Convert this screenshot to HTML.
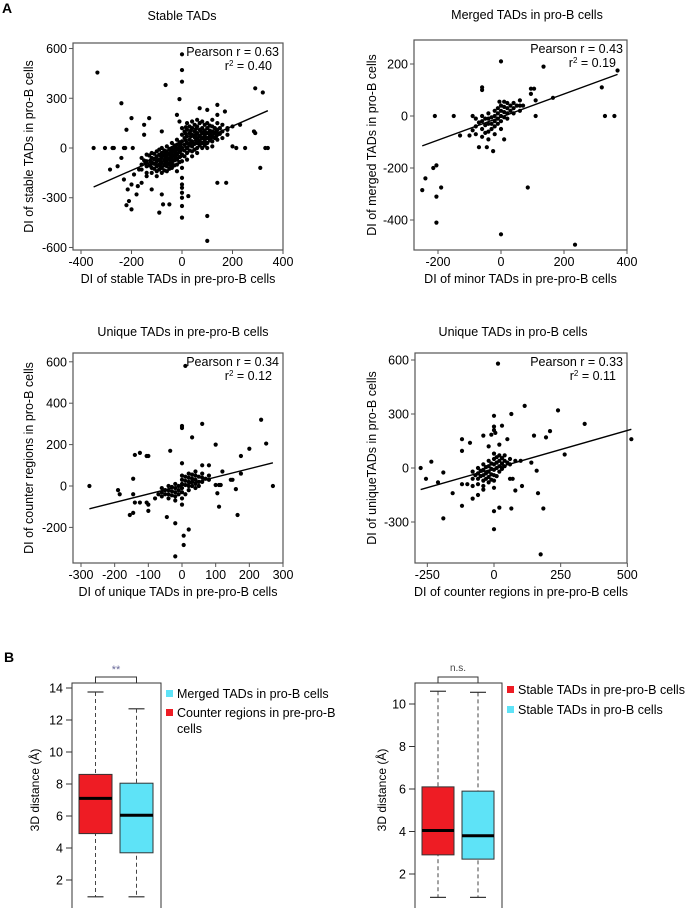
<!DOCTYPE html>
<html><head><meta charset="utf-8"><style>
body{margin:0;background:#fff;}
svg{display:block;font-family:"Liberation Sans",sans-serif;}
</style></head><body>
<svg id="fig" width="687" height="908" viewBox="0 0 687 908" xmlns="http://www.w3.org/2000/svg">
<text x="2" y="13" font-size="14" font-weight="bold">A</text>
<text x="4" y="662" font-size="14" font-weight="bold">B</text>
</svg>
<script>
// ---------- scatter data ----------
const p1Points = [[-335,455],[-65,380],[0,565],[0,470],[0,400],[-240,270],[-10,295],[-200,180],[-220,110],[-150,140],[-150,80],[-80,100],[290,360],[320,335],[-350,0],[-305,0],[-275,0],[-270,0],[-230,0],[-225,0],[-195,0],[-285,-130],[-255,-110],[-240,-60],[-230,-190],[-215,-250],[-200,-220],[-175,-230],[-160,-210],[-200,-370],[-220,-345],[-210,-320],[-180,-280],[-120,-250],[-90,-390],[-80,-280],[-75,-340],[-50,-340],[0,-350],[0,-420],[0,-300],[0,-270],[0,-240],[25,-290],[100,-410],[100,-560],[140,-210],[175,-210],[310,-120],[340,0],[330,0],[250,0],[215,0],[200,10],[285,100],[290,90],[230,140],[200,130],[180,110],[140,260],[100,230],[170,220],[70,240],[-130,180],[-170,-130],[-190,-160],[-140,-170],[-20,200],[-10,160],
[-160,-60],[-160,-100],[-160,-130],[-140,-40],[-140,-80],[-140,-110],[-140,-150],[-120,-30],[-120,-60],[-120,-90],[-120,-120],[-120,-150],[-100,-20],[-100,-50],[-100,-80],[-100,-110],[-100,-140],[-100,-170],[-80,0],[-80,-30],[-80,-60],[-80,-90],[-80,-120],[-80,-150],[-60,10],[-60,-20],[-60,-50],[-60,-80],[-60,-110],[-60,-140],[-40,30],[-40,0],[-40,-30],[-40,-60],[-40,-90],[-40,-120],[-20,50],[-20,20],[-20,-10],[-20,-40],[-20,-70],[-20,-100],[-20,-140],[0,120],[0,80],[0,40],[0,0],[0,-40],[0,-80],[0,-120],[0,-180],[0,-220],[20,150],[20,110],[20,70],[20,30],[20,0],[20,-30],[20,-70],[40,160],[40,120],[40,80],[40,40],[40,10],[40,-20],[40,-50],[60,170],[60,130],[60,90],[60,60],[60,30],[60,0],[60,-30],[80,160],[80,120],[80,90],[80,60],[80,30],[80,0],[100,150],[100,120],[100,90],[100,60],[100,30],[100,0],[120,170],[120,130],[120,100],[120,70],[120,40],[120,10],[140,200],[140,150],[140,110],[140,80],[140,50],[160,140],[160,100],[160,60],[180,120],[180,80],
[-150,-75],[-130,-45],[-130,-105],[-110,-35],[-110,-65],[-110,-95],[-110,-125],[-90,-10],[-90,-40],[-90,-70],[-90,-100],[-90,-130],[-70,-15],[-70,-45],[-70,-75],[-70,-105],[-70,-135],[-50,-5],[-50,-35],[-50,-65],[-50,-95],[-50,-125],[-30,15],[-30,-15],[-30,-45],[-30,-75],[-30,-105],[-10,35],[-10,5],[-10,-25],[-10,-55],[-10,-85],[10,100],[10,60],[10,20],[10,-15],[10,-50],[30,130],[30,90],[30,50],[30,15],[30,-15],[50,140],[50,100],[50,65],[50,25],[50,-10],[70,150],[70,110],[70,75],[70,45],[70,15],[90,140],[90,105],[90,75],[90,45],[90,15],[110,135],[110,105],[110,75],[110,45],[130,120],[130,90],[130,60],[150,120],[150,85],
[-145,-90],[-125,-75],[-125,-105],[-105,-65],[-105,-95],[-85,-45],[-85,-80],[-85,-110],[-65,-30],[-65,-65],[-65,-95],[-45,-15],[-45,-45],[-45,-75],[-45,-105],[-25,0],[-25,-30],[-25,-60],[-5,20],[-5,-15],[-5,-50],[15,45],[15,85],[15,125],[35,30],[35,70],[35,105],[55,45],[55,80],[55,115],[75,30],[75,65],[75,100],[95,30],[95,60],[95,90],[115,60],[115,90],[135,70],[135,100]];
const p2Points = [[0,210],[135,190],[370,175],[320,110],[330,0],[360,0],[-60,110],[-60,100],[95,105],[105,105],[95,85],[165,70],[-210,0],[-150,0],[-130,-75],[-250,-285],[-240,-240],[-215,-200],[-205,-190],[-205,-310],[-190,-275],[-205,-410],[0,-455],[85,-275],[235,-495],[-70,-120],[-45,-120],[-25,-135],[10,-90],[110,0],[60,60],[110,60],[-100,-75],[-90,-55],[-90,0],[-5,55],[10,55],[70,40],
[-80,-10],[-80,-40],[-80,-70],[-60,0],[-60,-20],[-60,-50],[-60,-80],[-40,10],[-40,-10],[-40,-30],[-40,-60],[-40,-90],[-20,20],[-20,0],[-20,-20],[-20,-40],[-20,-70],[0,40],[0,20],[0,0],[0,-20],[0,-50],[20,50],[20,30],[20,10],[20,-10],[40,50],[40,30],[40,10],[60,40],[60,20],[-50,-35],[-30,-50],[-10,10],[10,35],[30,20],[-10,-30],[10,-5],
[-70,-25],[-50,-10],[-30,-5],[-30,-30],[-10,-10],[10,15],[30,40],[-50,-65],[-10,30],[50,40]];
const p3Points = [[10,580],[235,320],[60,300],[0,290],[0,280],[30,235],[-35,170],[100,200],[200,180],[250,205],[175,145],[-140,150],[-125,160],[-105,145],[-100,145],[-145,35],[-275,0],[270,0],[-190,-20],[-185,-40],[-145,-40],[-140,-80],[-125,-80],[-105,-80],[-100,-90],[-100,-120],[-155,-140],[-145,-130],[-45,-150],[-20,-180],[20,-210],[5,-240],[5,-285],[-20,-340],[110,-100],[165,-140],[160,-15],[105,-35],[110,5],[145,30],[175,60],[120,70],[60,100],[0,110],[80,100],[-80,-60],[-70,-40],[100,5],[115,5],[150,30],
[-60,-10],[-60,-30],[-60,-50],[-40,0],[-40,-20],[-40,-40],[-40,-60],[-20,10],[-20,-10],[-20,-30],[-20,-50],[-20,-70],[0,50],[0,30],[0,10],[0,-10],[0,-30],[0,-60],[0,-90],[20,60],[20,40],[20,20],[20,0],[20,-20],[40,70],[40,50],[40,30],[40,10],[40,-10],[60,60],[60,40],[60,20],[80,50],[80,30],[-30,-25],[-10,-20],[10,25],[30,35],[50,20],[-50,-20],[10,-40],[30,0],
[-50,-40],[-30,-45],[-10,-40],[-10,0],[10,5],[10,45],[30,20],[30,55],[50,45],[50,0],[70,35],[-30,-5]];
const p4Points = [[15,580],[115,345],[240,320],[65,300],[0,290],[340,245],[0,230],[0,210],[30,235],[5,195],[-10,185],[50,160],[-40,180],[-120,160],[-90,140],[-120,95],[150,180],[195,170],[210,205],[265,75],[515,160],[140,30],[160,-15],[-275,0],[-255,-60],[-235,35],[-190,-25],[-210,-80],[-155,-140],[-120,-210],[-190,-280],[-80,-170],[0,-240],[20,-220],[0,-340],[65,-225],[80,-125],[105,-100],[165,-140],[185,-225],[175,-480],[60,-60],[70,-60],[-100,-90],[-60,-150],[-120,-90],[-20,120],[20,130],[100,40],[-40,-120],
[-80,-20],[-80,-60],[-80,-100],[-60,0],[-60,-30],[-60,-60],[-60,-90],[-40,20],[-40,-10],[-40,-40],[-40,-70],[-40,-100],[-20,40],[-20,10],[-20,-20],[-20,-50],[-20,-80],[0,80],[0,50],[0,20],[0,-10],[0,-40],[0,-70],[0,-110],[20,70],[20,40],[20,10],[20,-20],[40,70],[40,40],[40,10],[60,50],[60,20],[80,40],[-30,-30],[-10,-5],[10,30],[30,55],[-50,-45],[10,-45],
[-50,-15],[-30,5],[-30,-60],[-10,25],[-10,-35],[-10,-65],[10,0],[10,60],[30,25],[30,-5],[50,30],[-70,-40]];
const p1Line = [[-350,-235],[340,225]];
const p2Line = [[-250,-115],[370,160]];
const p3Line = [[-275,-110],[270,112]];
const p4Line = [[-275,-120],[515,215]];
const p1XTicks = [-400,-200,0,200,400], p1YTicks = [600,300,0,-300,-600];
const p2XTicks = [-200,0,200,400], p2YTicks = [200,0,-200,-400];
const p3XTicks = [-300,-200,-100,0,100,200,300], p3YTicks = [600,400,200,0,-200];
const p4XTicks = [-250,0,250,500], p4YTicks = [600,300,0,-300];
// ---------- box data ----------
const boxCats1 = ["Counter regions in pre-pro-B cells","Merged TADs in pro-B cells"];
const boxStats1 = [[0.95,4.9,7.1,8.6,13.75],[0.95,3.7,6.05,8.05,12.7]];
const boxCats2 = ["Stable TADs in pre-pro-B cells","Stable TADs in pro-B cells"];
const boxStats2 = [[0.9,2.9,4.05,6.1,10.6],[0.9,2.7,3.8,5.9,10.55]];
const boxTicks1 = [2,4,6,8,10,12,14];
const boxTicks2 = [2,4,6,8,10];

const NS="http://www.w3.org/2000/svg";
const svg=document.getElementById('fig');
function mk(tag,attrs,parent,txt){const e=document.createElementNS(NS,tag);for(const k in attrs)e.setAttribute(k,attrs[k]);if(txt!==undefined)e.textContent=txt;(parent||svg).appendChild(e);return e;}

function scatter(cfg){
  const g=mk('g',{});
  
  
  const X=v=>cfg.x0+v*cfg.kx, Y=v=>cfg.y0-v*cfg.ky;
  const t=mk('text',{x:cfg.tx,y:cfg.ty,'font-size':12.5,'text-anchor':'middle'},g,cfg.title);
  
  
  const fr=mk('rect',{x:cfg.L,y:cfg.T,width:cfg.R-cfg.L,height:cfg.B-cfg.T,fill:'none',stroke:'#555','stroke-width':1.2},g);
  
  
  cfg.xt.forEach(v=>{
    mk('line',{x1:X(v),x2:X(v),y1:cfg.B,y2:cfg.B+4,stroke:'#555'},g);
    const l=mk('text',{x:X(v),y:cfg.B+16,'font-size':12.5,'text-anchor':'middle'},g,String(v));
    
    
  });
  cfg.yt.forEach(v=>{
    mk('line',{x1:cfg.L-4,x2:cfg.L,y1:Y(v),y2:Y(v),stroke:'#555'},g);
    const l=mk('text',{x:cfg.L-6,y:Y(v)+4.5,'font-size':12.5,'text-anchor':'end'},g,String(v));
    
    
  });
  const xl=mk('text',{x:(cfg.L+cfg.R)/2,y:cfg.B+33,'font-size':12.5,'text-anchor':'middle'},g,cfg.xlab);
  
  
  const yc=(cfg.T+cfg.B)/2;
  const yl=mk('text',{x:cfg.ylx,y:yc,'font-size':12.5,'text-anchor':'middle',transform:`rotate(-90 ${cfg.ylx} ${yc})`},g,cfg.ylab);
  
  
  cfg.pts.forEach(p=>{
    const c=mk('circle',{cx:X(p[0]),cy:Y(p[1]),r:2.1,fill:'#000'},g);
    
    
  });
  const ln=mk('line',{x1:X(cfg.line[0][0]),y1:Y(cfg.line[0][1]),x2:X(cfg.line[1][0]),y2:Y(cfg.line[1][1]),stroke:'#000','stroke-width':1.4},g);
  
  
  const s1=mk('text',{x:cfg.R-4,y:cfg.T+13,'font-size':12.5,'text-anchor':'end'},g,cfg.r);
  
  
  const s2=mk('text',{x:cfg.R-11,y:cfg.T+27,'font-size':12.5,'text-anchor':'end'},g);
  
  
  s2.innerHTML='r<tspan dy="-4" font-size="8">2</tspan><tspan dy="4"> = '+cfg.r2+'</tspan>';
}
scatter({name:'scatter-stable-tads',title:'Stable TADs',tx:182,ty:20,L:73,R:283,T:43,B:250,x0:182,kx:0.2525,y0:148,ky:0.1658,xt:p1XTicks,yt:p1YTicks,xlab:'DI of stable TADs in pre-pro-B cells',ylab:'DI of stable TADs in pro-B cells',ylx:33,pts:p1Points,line:p1Line,r:'Pearson r = 0.63',r2:'0.40'});
scatter({name:'scatter-merged-tads',title:'Merged TADs in pro-B cells',tx:527,ty:19,L:414,R:627,T:40,B:250,x0:501,kx:0.315,y0:116,ky:0.26,xt:p2XTicks,yt:p2YTicks,xlab:'DI of minor TADs in pre-pro-B cells',ylab:'DI of merged TADs in pro-B cells',ylx:376,pts:p2Points,line:p2Line,r:'Pearson r = 0.43',r2:'0.19'});
scatter({name:'scatter-unique-prepro',title:'Unique TADs in pre-pro-B cells',tx:183,ty:336,L:73,R:283,T:353,B:563,x0:182,kx:0.3367,y0:486,ky:0.207,xt:p3XTicks,yt:p3YTicks,xlab:'DI of unique TADs in pre-pro-B cells',ylab:'DI of counter regions in pro-B cells',ylx:33,pts:p3Points,line:p3Line,r:'Pearson r = 0.34',r2:'0.12'});
scatter({name:'scatter-unique-pro',title:'Unique TADs in pro-B cells',tx:513,ty:336,L:415,R:627,T:353,B:563,x0:494,kx:0.2667,y0:468,ky:0.18,xt:p4XTicks,yt:p4YTicks,xlab:'DI of counter regions in pre-pro-B cells',ylab:'DI of uniqueTADs in pro-B cells',ylx:376,pts:p4Points,line:p4Line,r:'Pearson r = 0.33',r2:'0.11'});

function boxplot(cfg){
  const g=mk('g',{});
  
  
  const Y=v=>cfg.yTop-(v-cfg.vTop)*cfg.k;
  const fr=mk('rect',{x:cfg.L,y:cfg.T,width:cfg.R-cfg.L,height:930-cfg.T,fill:'none',stroke:'#333','stroke-width':1},g);
  
  
  cfg.ticks.forEach(v=>{
    mk('line',{x1:cfg.L-6,x2:cfg.L,y1:Y(v),y2:Y(v),stroke:'#333'},g);
    const l=mk('text',{x:cfg.L-9,y:Y(v)+4.5,'font-size':12.5,'text-anchor':'end'},g,String(v));
    
    
  });
  const yc=790;
  const yl=mk('text',{x:cfg.ylx,y:yc,'font-size':12,'text-anchor':'middle',transform:`rotate(-90 ${cfg.ylx} ${yc})`},g,'3D distance (Å)');
  
  
  cfg.stats.forEach((s,i)=>{
    const x1=cfg.bx[i], x2=x1+cfg.bw, xm=x1+cfg.bw/2;
    mk('line',{x1:xm,x2:xm,y1:Y(s[4]),y2:Y(s[0]),stroke:'#444','stroke-dasharray':'4 3'},g);
    mk('line',{x1:xm-8,x2:xm+8,y1:Y(s[4]),y2:Y(s[4]),stroke:'#333','stroke-width':1.2},g);
    mk('line',{x1:xm-8,x2:xm+8,y1:Y(s[0]),y2:Y(s[0]),stroke:'#333','stroke-width':1.2},g);
    const b=mk('rect',{x:x1,y:Y(s[3]),width:cfg.bw,height:Y(s[1])-Y(s[3]),fill:cfg.colors[i],stroke:'#333','stroke-width':1},g);
    
    
    mk('line',{x1:x1,x2:x2,y1:Y(s[2]),y2:Y(s[2]),stroke:'#000','stroke-width':3},g);
  });
  const ma=cfg.bx[0]+cfg.bw/2, mb=cfg.bx[1]+cfg.bw/2;
  const br=mk('path',{d:`M${ma} ${cfg.T}V677H${mb}V${cfg.T}`,fill:'none',stroke:'#333'},g);
  
  
  const sg=mk('text',{x:(ma+mb)/2,y:cfg.sigY,'font-size':cfg.sigSize,'text-anchor':'middle',fill:cfg.sigColor},g,cfg.sig);
  
  
  cfg.legend.forEach((e,i)=>{
    const lg=mk('g',{},g);
    
    
    mk('rect',{x:cfg.lx,y:cfg.ly[i]-8,width:7,height:7,fill:e[1]},lg);
    e[0].forEach((ln,j)=>mk('text',{x:cfg.lx+11,y:cfg.ly[i]+j*16,'font-size':12.5},lg,ln));
  });
}
boxplot({name:'boxplot-merged',L:72,R:161,T:683,yTop:688,vTop:14,k:16,ticks:boxTicks1,ylx:39,stats:boxStats1,bx:[79,120],bw:33,colors:['#ee1c24','#5ee3f7'],sig:'**',sigY:673,sigSize:11,sigColor:'#6a6a9a',
  lx:166,ly:[698,717],legend:[[['Merged TADs in pro-B cells'],'#5ee3f7'],[['Counter regions in pre-pro-B','cells'],'#ee1c24']]});
boxplot({name:'boxplot-stable',L:415,R:502,T:683,yTop:704,vTop:10,k:21.25,ticks:boxTicks2,ylx:386,stats:boxStats2,bx:[422,462],bw:32,colors:['#ee1c24','#5ee3f7'],sig:'n.s.',sigY:671,sigSize:10,sigColor:'#444',
  lx:507,ly:[694,714],legend:[[[boxCats2[0]],'#ee1c24'],[[boxCats2[1]],'#5ee3f7']]});
</script>
</body></html>
